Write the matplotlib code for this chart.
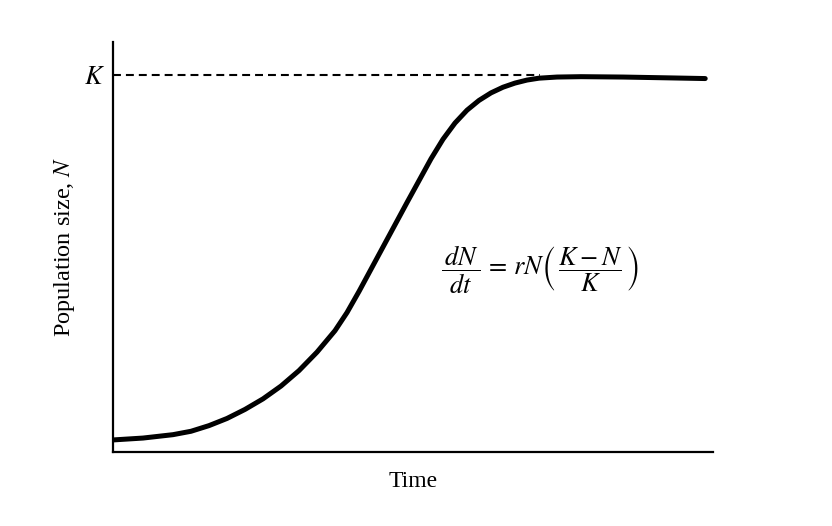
import matplotlib.pyplot as plt

plt.rcParams['font.family'] = ['Liberation Serif', 'DejaVu Serif']
plt.rcParams['mathtext.fontset'] = 'stix'

# logistic growth curve (time, population)
time = [0.0, 0.5, 1.0, 1.3, 1.6, 1.9, 2.2, 2.5, 2.8, 3.1, 3.4, 3.7, 3.9,
        4.1, 4.3, 4.5, 4.7, 4.9, 5.1, 5.3, 5.5, 5.7, 5.9, 6.1, 6.3, 6.5,
        6.7, 6.9, 7.1, 7.4, 7.8, 8.5, 9.2, 9.87]
pop = [3.2, 3.7, 4.6, 5.5, 7.0, 8.9, 11.3, 14.1, 17.5, 21.6, 26.5, 32.2, 37.0,
       42.6, 48.5, 54.4, 60.3, 66.2, 72.0, 77.8, 83.0, 87.3, 90.7, 93.3, 95.3,
       96.8, 97.9, 98.7, 99.2, 99.5, 99.6, 99.5, 99.3, 99.1]
K = 100
dash_end = 7.12

fig = plt.figure(figsize=(8.32, 5.26), dpi=100)
ax = fig.add_axes([113 / 832, 1 - 452 / 526, 600 / 832, 410 / 526])

ax.plot(time, pop, color='black', lw=3.6, solid_capstyle='round',
        solid_joinstyle='round')
ax.plot([0, dash_end], [K, K], color='black', lw=1.5, dashes=(3.8, 2.4))

ax.set_xlim(0, 10)
ax.set_ylim(0, 108.8)
ax.spines['top'].set_visible(False)
ax.spines['right'].set_visible(False)
for s in ('left', 'bottom'):
    ax.spines[s].set_linewidth(1.6)

ax.set_xticks([])
ax.set_yticks([K])
ax.set_yticklabels(['$K$'], fontsize=19)
ax.tick_params(axis='y', length=0, pad=6)

ax.set_xlabel('Time', fontsize=17, labelpad=14)
ax.set_ylabel('Population size, $N$', fontsize=17.5)
ax.yaxis.set_label_coords(-0.06, 0.5)

ax.text(7.12, 48.3,
        r'$\dfrac{\,dN\,}{dt}\,=\,rN\left(\,\dfrac{K - N}{K}\,\right)$',
        fontsize=19, ha='center', va='center')

fig.savefig('out.png', dpi=100, facecolor='white')
